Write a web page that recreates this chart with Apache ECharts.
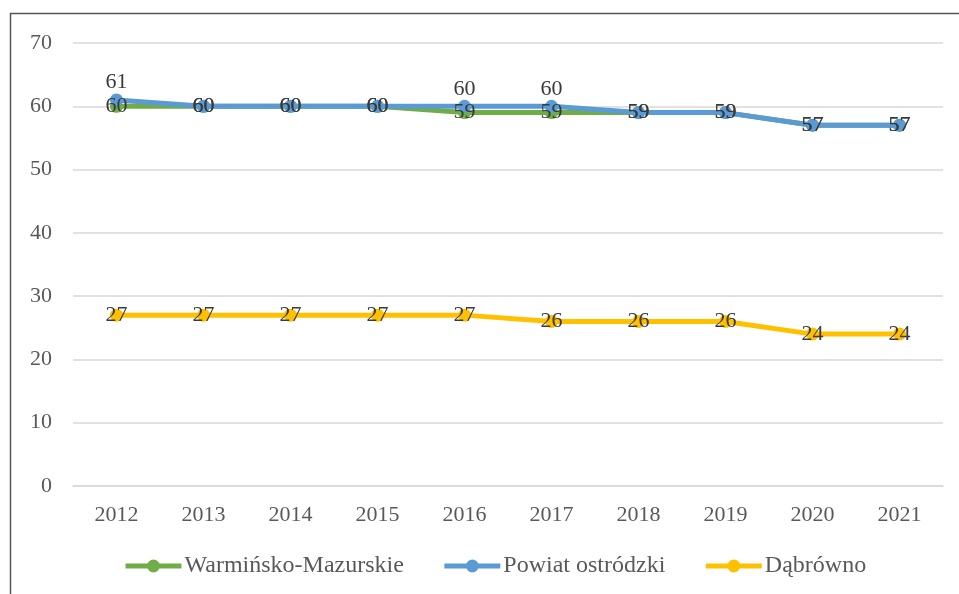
<!DOCTYPE html>
<html>
<head>
<meta charset="utf-8">
<script src="https://cdn.jsdelivr.net/npm/echarts@6/dist/echarts.min.js"></script>
<style>
  html, body { margin: 0; padding: 0; background: #fff; }
  #chart { width: 959px; height: 594px; }
</style>
</head>
<body>
<div id="chart"></div>
<script>
var myChart = echarts.init(document.getElementById('chart'));

var years = ['2012', '2013', '2014', '2015', '2016', '2017', '2018', '2019', '2020', '2021'];
var warminsko = [60, 60, 60, 60, 59, 59, 59, 59, 57, 57];
var powiat = [61, 60, 60, 60, 60, 60, 59, 59, 57, 57];
var dabrowno = [27, 27, 27, 27, 27, 26, 26, 26, 24, 24];

var font = 'Liberation Serif, Times New Roman, serif';

// blue labels sit above the point where they differ from the green ones
var powiatData = powiat.map(function (v, i) {
    if (v !== warminsko[i]) {
        return { value: v, label: { position: 'top', distance: 0 } };
    }
    return v;
});

var mkSeries = function (name, data, color) {
    return {
        name: name,
        type: 'line',
        data: data,
        symbol: 'circle',
        symbolSize: 13,
        lineStyle: { width: 5, color: color },
        itemStyle: { color: color },
        label: {
            show: true,
            position: 'inside',
            color: '#3a3a3a',
            fontFamily: font,
            fontSize: 22
        },
        animation: false
    };
};

option = {
    backgroundColor: '#fff',
    graphic: [{
        type: 'polyline',
        shape: { points: [[10.5, 594], [10.5, 13.5], [959, 13.5]] },
        style: { stroke: '#555', lineWidth: 1.5, fill: null }
    }],
    grid: { left: 73, right: 16, top: 43, bottom: 108 },
    legend: {
        top: 549,
        left: 118,
        itemWidth: 56,
        itemHeight: 16,
        itemGap: 38,
        lineStyle: { width: 5 },
        textStyle: { fontFamily: font, fontSize: 24, color: '#595959', padding: [0, 0, 0, -2] },
        data: ['Warmińsko-Mazurskie', 'Powiat ostródzki', 'Dąbrówno']
    },
    xAxis: {
        type: 'category',
        data: years,
        axisLine: { lineStyle: { color: '#d9d9d9', width: 1.5 } },
        axisTick: { show: false },
        axisLabel: { fontFamily: font, fontSize: 22, color: '#595959', margin: 18 }
    },
    yAxis: {
        type: 'value',
        min: 0,
        max: 70,
        interval: 10,
        axisLine: { show: false },
        axisTick: { show: false },
        splitLine: { lineStyle: { color: '#d9d9d9', width: 1.5 } },
        axisLabel: { fontFamily: font, fontSize: 22, color: '#595959', margin: 21 }
    },
    series: [
        mkSeries('Warmińsko-Mazurskie', warminsko, '#70AD47'),
        mkSeries('Powiat ostródzki', powiatData, '#5B9BD5'),
        mkSeries('Dąbrówno', dabrowno, '#FFC000')
    ]
};

myChart.setOption(option);
</script>
</body>
</html>
